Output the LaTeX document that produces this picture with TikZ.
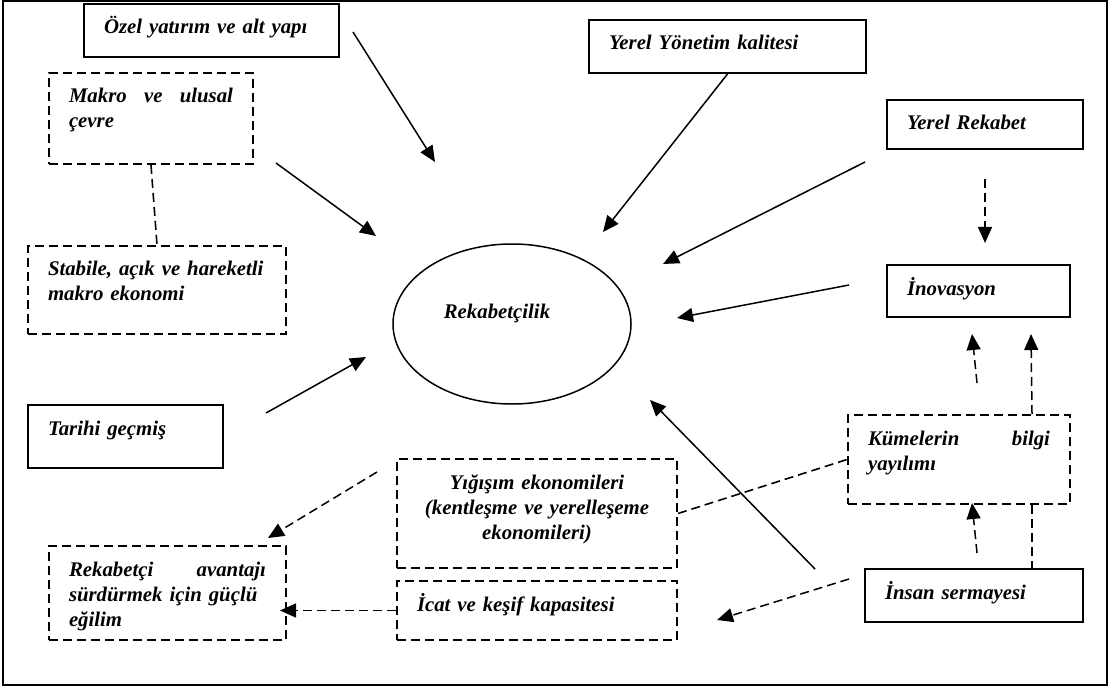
\documentclass[tikz,border=0pt]{standalone}
\usepackage{fontspec}
\setmainfont{Liberation Serif}
\usetikzlibrary{arrows.meta,shapes.geometric}

\tikzset{
	box/.style={draw, line width=1pt, anchor=north west, inner xsep=10pt, inner ysep=7pt,
		text height=8pt, align=left, font=\fontsize{10.4}{12.5}\selectfont\bfseries\itshape},
	dbox/.style={box, dash pattern=on 4.5pt off 2.5pt},
	arr/.style={line width=0.75pt, -{Triangle[length=8pt,width=7pt]}},
	darr/.style={arr, dash pattern=on 4.5pt off 2.5pt},
	dline/.style={line width=0.8pt, dash pattern=on 4.5pt off 2.5pt}
}

\begin{document}
\begin{tikzpicture}[x=0.5pt, y=-0.5pt]
	\useasboundingbox (0,0) rectangle (1111,689);
	\draw[line width=1pt] (3,1.5) rectangle (1107,685);
	
	% kutular
	\node[box, text width=107.5pt, text depth=4.5pt] (ozel) at (83,3) {Özel yatırım ve alt yapı};
	\node[dbox, text width=82pt, text depth=23.5pt] (makro) at (48,72) {Makro \hfill ve \hfill ulusal\\çevre};
	\node[dbox, text width=109pt, text depth=22pt] (stabile) at (27,245) {Stabile, açık ve hareketli\\makro ekonomi};
	\node[box, text width=77.5pt, text depth=9.5pt] (tarihi) at (27,404) {Tarihi geçmiş};
	\node[dbox, text width=98.5pt, text depth=25pt] (rekabetci) at (48,545) {Rekabetçi \hfill avantajı\\sürdürmek için güçlü\\eğilim};
	\node[dbox, text width=120pt, text depth=32.5pt, align=center] (yigisim) at (396,458) {Yığışım ekonomileri\\(kentleşme ve yerelleşeme\\ekonomileri)};
	\node[dbox, text width=120pt, text depth=7.5pt] (icat) at (396,580) {İcat ve keşif kapasitesi};
	\node[box, text width=118.5pt, text depth=4.5pt] (yonetim) at (588,19) {Yerel Yönetim kalitesi};
	\node[box, text width=78pt, text depth=2.5pt] (yerelrek) at (886,99) {Yerel Rekabet};
	\node[box, text width=71.5pt, text depth=4pt] (inov) at (886,264) {İnovasyon};
	\node[dbox, text width=91pt, text depth=22.5pt] (kume) at (847,414) {Kümelerin \hfill bilgi\\yayılımı};
	\node[box, text width=89pt, text depth=4.5pt] (insan) at (864,568) {İnsan sermayesi};
	
	\node[draw, ellipse, line width=0.75pt, minimum width=119pt, minimum height=80pt, inner sep=0pt,
		label={[font=\fontsize{10.4}{12.5}\selectfont\bfseries\itshape, xshift=-7.5pt, yshift=5.5pt]center:Rekabetçilik}] (rek) at (512,324) {};
	
	% serbest uclar
	\coordinate (ozel-out) at (353,32);
	\coordinate (rek-in1) at (435,162);
	\coordinate (makro-out) at (276,163);
	\coordinate (rek-in2) at (376,236);
	\coordinate (rek-in3) at (603,232);
	\coordinate (yerelrek-out) at (865,162);
	\coordinate (rek-in4) at (663,264);
	\coordinate (inov-out) at (849,285);
	\coordinate (rek-in5) at (677,318);
	\coordinate (tarihi-out) at (266,413);
	\coordinate (rek-in6) at (366,357);
	\coordinate (insan-out1) at (815,569);
	\coordinate (rek-in7) at (650,400);
	\coordinate (yigisim-out) at (377,472);
	\coordinate (rekabetci-in) at (268,538);
	\coordinate (insan-out2) at (849,579);
	\coordinate (icat-in) at (717,620);
	\coordinate (insan-out3) at (977,553);
	\coordinate (kume-in) at (972,503);
	\coordinate (kume-out) at (977,383);
	\coordinate (inov-in1) at (972,334);
	\coordinate (inov-in2) at (1031,334);
	
	% oklar
	\draw[arr] (ozel-out) -- (rek-in1);
	\draw[arr] (makro-out) -- (rek-in2);
	\draw[arr] (yonetim.south) -- (rek-in3);
	\draw[arr] (yerelrek-out) -- (rek-in4);
	\draw[arr] (inov-out) -- (rek-in5);
	\draw[arr] (tarihi-out) -- (rek-in6);
	\draw[arr] (insan-out1) -- (rek-in7);
	
	\draw[dline] (makro.south) -- (stabile.north);
	\draw[darr, shorten <=14.5pt, shorten >=10.5pt] (yerelrek.south) -- (yerelrek.south |- inov.north);
	\draw[darr] (yigisim-out) -- (rekabetci-in);
	\draw[dline] (yigisim.east) -- (kume.west);
	\draw[darr, shorten >=-3.5pt] (icat.west) -- (icat.west -| rekabetci.east);
	\draw[darr] (insan-out2) -- (icat-in);
	\draw[darr] (insan-out3) -- (kume-in);
	\draw[darr] (kume-out) -- (inov-in1);
	\draw[darr] ([xshift=36.5pt]kume.north) -- (inov-in2);
	\draw[dline] ([xshift=36.5pt]kume.south) -- ([xshift=36.5pt]kume.south |- insan.north);
\end{tikzpicture}
\end{document}
